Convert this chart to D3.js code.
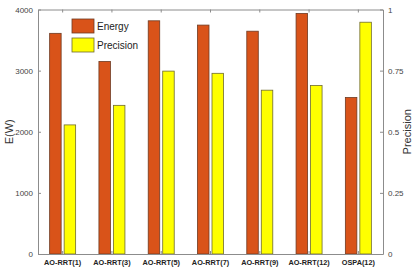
<!DOCTYPE html>
<html>
<head>
<meta charset="utf-8">
<script src="https://cdn.jsdelivr.net/npm/d3@7"></script>
<style>
  body { margin: 0; background: #fff; }
  text { font-family: "Liberation Sans", Arial, sans-serif; }
</style>
</head>
<body>
<script>
// Chart data
const categories = ["AO-RRT(1)", "AO-RRT(3)", "AO-RRT(5)", "AO-RRT(7)", "AO-RRT(9)", "AO-RRT(12)", "OSPA(12)"];
const energy = [3610, 3150, 3815, 3745, 3645, 3935, 2560];
const precision = [0.528, 0.608, 0.748, 0.739, 0.670, 0.689, 0.948];
const energyTicks = [0, 1000, 2000, 3000, 4000];
const precisionTicks = [0, 0.25, 0.5, 0.75, 1];

const W = 415, H = 271;
const margin = {top: 9.5, right: 32, bottom: 17, left: 38};
const width = W - margin.left - margin.right;
const height = H - margin.top - margin.bottom;

const svg = d3.select("body").append("svg")
    .attr("width", W)
    .attr("height", H)
  .append("g")
    .attr("transform", "translate(" + margin.left + "," + margin.top + ")");

const x = d3.scaleBand().domain(categories).range([0, width]);
const yE = d3.scaleLinear().domain([0, 4000]).range([height, 0]);
const yP = d3.scaleLinear().domain([0, 1]).range([height, 0]);

const barW = 11.5, gap = 3;
const axisColor = "#8c8c8c";

// Energy bars
svg.selectAll("rect.energy")
    .data(energy)
  .enter().append("rect")
    .attr("class", "energy")
    .attr("x", (d, i) => x(categories[i]) + x.bandwidth() / 2 - gap / 2 - barW)
    .attr("y", (d) => yE(d))
    .attr("width", barW)
    .attr("height", (d) => height - yE(d))
    .style("fill", "#d95319")
    .style("stroke", "#6e3a22")
    .style("stroke-width", 0.8);

// Precision bars
svg.selectAll("rect.precision")
    .data(precision)
  .enter().append("rect")
    .attr("class", "precision")
    .attr("x", (d, i) => x(categories[i]) + x.bandwidth() / 2 + gap / 2)
    .attr("y", (d) => yP(d))
    .attr("width", barW)
    .attr("height", (d) => height - yP(d))
    .style("fill", "#ffff00")
    .style("stroke", "#6e6a30")
    .style("stroke-width", 0.8);

// Axes (MATLAB style, inward ticks)
const styleAxis = (g) => {
    g.select(".domain").attr("stroke", axisColor);
    g.selectAll(".tick line").attr("stroke", axisColor);
    g.selectAll(".tick text").attr("fill", "#444").style("font-size", "8px");
};

svg.append("g")
    .call(d3.axisLeft(yE).tickValues(energyTicks).tickFormat(d3.format("d")).tickSize(-3).tickPadding(5).tickSizeOuter(0))
    .call(styleAxis);

svg.append("g")
    .attr("transform", "translate(" + width + ",0)")
    .call(d3.axisRight(yP).tickValues(precisionTicks).tickFormat(d3.format("")).tickSize(-3).tickPadding(5).tickSizeOuter(0))
    .call(styleAxis);

svg.append("g")
    .attr("transform", "translate(0," + height + ")")
    .call(d3.axisBottom(x).tickSize(-3).tickPadding(6).tickSizeOuter(0))
    .call(styleAxis)
    .call((g) => g.selectAll(".tick text").style("font-size", "7.3px").style("font-weight", "bold").attr("fill", "#222"));

svg.append("g")
    .call(d3.axisTop(x).tickSize(-3).tickFormat("").tickSizeOuter(0))
    .call(styleAxis);

// Axis titles
svg.append("text")
    .attr("transform", "translate(" + (9 - margin.left) + "," + (height / 2) + ") rotate(-90)")
    .attr("text-anchor", "middle")
    .attr("dy", "0.35em")
    .style("font-size", "11px")
    .attr("fill", "#333")
    .text("E(W)");

svg.append("text")
    .attr("transform", "translate(" + (width + 24) + "," + (height / 2) + ") rotate(-90)")
    .attr("text-anchor", "middle")
    .attr("dy", "0.35em")
    .style("font-size", "11px")
    .attr("fill", "#333")
    .text("Precision");

// Legend
const legendItems = [
    {label: "Energy", fill: "#d95319", stroke: "#6e3a22"},
    {label: "Precision", fill: "#ffff00", stroke: "#6e6a30"}
];
const legend = svg.selectAll("g.legend")
    .data(legendItems)
  .enter().append("g")
    .attr("class", "legend")
    .attr("transform", (d, i) => "translate(" + (72 - margin.left) + "," + (19 - margin.top + i * 19) + ")");

legend.append("rect")
    .attr("width", 22)
    .attr("height", 14)
    .style("fill", (d) => d.fill)
    .style("stroke", (d) => d.stroke)
    .style("stroke-width", 0.8);

legend.append("text")
    .attr("x", 25)
    .attr("y", 7)
    .attr("dy", "0.35em")
    .style("font-size", "10px")
    .attr("fill", "#222")
    .text((d) => d.label);
</script>
</body>
</html>
